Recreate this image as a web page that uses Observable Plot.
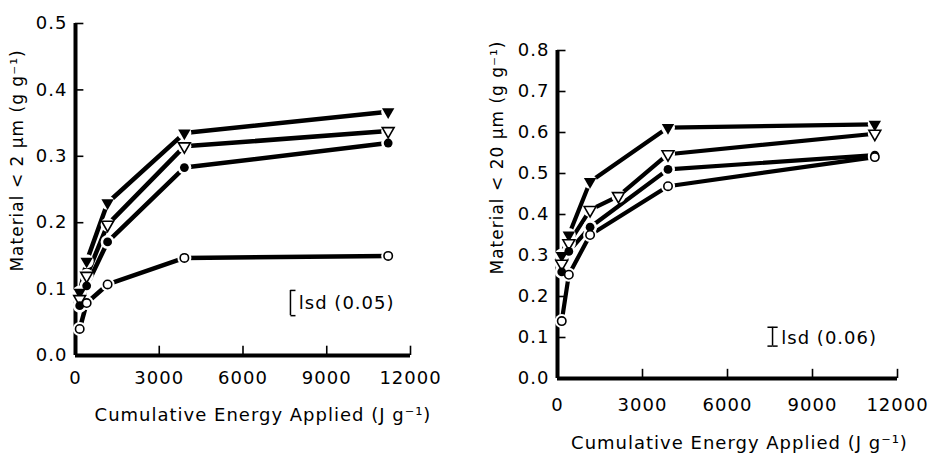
<!DOCTYPE html>
<html><head><meta charset="utf-8">
<script src="https://cdn.jsdelivr.net/npm/d3@7"></script>
<script src="https://cdn.jsdelivr.net/npm/@observablehq/plot@0.6"></script>
<style>
body{margin:0;background:#fff}
#wrap{display:flex;width:928px;height:465px;background:#fff}
svg{display:block}
</style>
</head><body><div id="wrap"></div>
<script>
// ---- data ----
const seriesNames = ["filledTriangle", "openTriangle", "filledCircle", "openCircle"];
const xTicks = [0, 3000, 6000, 9000, 12000];
const yTicksLeft = [0, 0.1, 0.2, 0.3, 0.4, 0.5];
const yTicksRight = [0, 0.1, 0.2, 0.3, 0.4, 0.5, 0.6, 0.7, 0.8];

// left panel: material < 2 um
const energyLeft = [150, 400, 1150, 3900, 11200];
const leftFilledTriangle = [0.095, 0.142, 0.23, 0.335, 0.367];
const leftOpenTriangle   = [0.085, 0.12, 0.197, 0.315, 0.338];
const leftFilledCircle   = [0.075, 0.105, 0.171, 0.283, 0.32];
const leftOpenCircle     = [0.04, 0.079, 0.107, 0.147, 0.15];

// right panel: material < 20 um
const energyRight = [150, 400, 1150, 3900, 11200];
const energyRightOpenTriangle = [150, 400, 1150, 2150, 3900, 11200];
const rightFilledTriangle = [0.30, 0.35, 0.48, 0.612, 0.62];
const rightOpenTriangle   = [0.28, 0.33, 0.411, 0.445, 0.547, 0.597];
const rightFilledCircle   = [0.26, 0.31, 0.369, 0.51, 0.545];
const rightOpenCircle     = [0.14, 0.253, 0.35, 0.469, 0.54];

// lsd annotations
const lsdLeft  = {x: 7700, y1: 0.06, y2: 0.098, tx: 8000, ty: 0.079, label: "lsd (0.05)", caps: "left"};
const lsdRight = {x: 7590, y1: 0.079, y2: 0.125, tx: 7900, ty: 0.098, label: "lsd (0.06)", caps: "both"};

const yLabelLeft  = "Material < 2 μm (g g⁻¹)";
const yLabelRight = "Material < 20 μm (g g⁻¹)";
const xLabel = "Cumulative Energy Applied (J g⁻¹)";

// ---- helpers ----
function rowsOf(energies, values, name) {
  return values.map((v, i) => ({energy: energies[i], value: v, series: name}));
}
const triDown = {
  draw(ctx, size) {
    const a = Math.sqrt(4 * size / Math.sqrt(3));
    const h = a * Math.sqrt(3) / 2;
    ctx.moveTo(-a / 2, -h / 3);
    ctx.lineTo(a / 2, -h / 3);
    ctx.lineTo(0, 2 * h / 3);
    ctx.closePath();
  }
};

function panel(o) {
  const rows = o.rows;
  const yMax = o.yMax;
  const lsd = o.lsd;
  const capLen = 180;
  const caps = [
    {x1: lsd.x, x2: lsd.x + capLen, y: lsd.y1},
    {x1: lsd.x, x2: lsd.x + capLen, y: lsd.y2}
  ];
  if (lsd.caps === "both") {
    caps.push({x1: lsd.x - capLen, x2: lsd.x, y: lsd.y1});
    caps.push({x1: lsd.x - capLen, x2: lsd.x, y: lsd.y2});
  }
  return Plot.plot({
    width: 464, height: 465,
    marginLeft: o.ml, marginRight: o.mr, marginTop: o.mt, marginBottom: o.mb,
    style: {fontFamily: "DejaVu Sans", fontSize: "18px", letterSpacing: "1px", background: "white", color: "black", overflow: "visible"},
    x: {domain: [0, 12000]},
    y: {domain: [0, yMax]},
    marks: [
      Plot.ruleX(xTicks.filter(d => d > 0), {x: d => d, y1: 0, y2: yMax * 0.028, strokeWidth: 1.6}),
      Plot.ruleY(o.yTicks.filter(d => d > 0), {y: d => d, x1: 0, x2: 12000 * 0.025, strokeWidth: 1.6}),
      Plot.axisX({ticks: xTicks, tickSize: 0, tickPadding: o.xPad, label: null, tickFormat: d => String(d), fontSize: 18}),
      Plot.axisY({ticks: o.yTicks, tickSize: 0, tickPadding: o.yPad, label: null, tickFormat: d3.format(".1f"), fontSize: 18}),
      Plot.ruleY([0], {strokeWidth: 4}),
      Plot.ruleX([0], {strokeWidth: 4}),
      Plot.line(rows, {x: "energy", y: "value", z: "series", stroke: "black", strokeWidth: o.lw}),
      Plot.dot(rows, {x: "energy", y: "value", r: 7, fill: "white"}),
      Plot.dot(rows.filter(d => d.series === "filledTriangle"), {x: "energy", y: "value", symbol: triDown, r: 4.6, fill: "black"}),
      Plot.dot(rows.filter(d => d.series === "openTriangle"), {x: "energy", y: "value", symbol: triDown, r: 4.4, fill: "white", stroke: "black", strokeWidth: 1.6}),
      Plot.dot(rows.filter(d => d.series === "filledCircle"), {x: "energy", y: "value", r: 4.4, fill: "black"}),
      Plot.dot(rows.filter(d => d.series === "openCircle"), {x: "energy", y: "value", r: 4.2, fill: "white", stroke: "black", strokeWidth: 1.6}),
      Plot.ruleX([lsd], {x: "x", y1: "y1", y2: "y2", strokeWidth: 1.5}),
      Plot.link(caps, {x1: "x1", x2: "x2", y1: "y", y2: "y", strokeWidth: 1.5}),
      Plot.text([lsd], {x: "tx", y: "ty", text: "label", textAnchor: "start", fontSize: 18}),
      Plot.text([o.yLabel], {frameAnchor: "left", textAnchor: "middle", lineAnchor: "middle", dx: o.ylDx, dy: o.ylDy, rotate: -90, fontSize: 17}),
      Plot.text([xLabel], {frameAnchor: "bottom", textAnchor: "middle", lineAnchor: "middle", dx: o.xlDx, dy: o.xlDy, fontSize: 18})
    ]
  });
}

const leftRows = [
  ...rowsOf(energyLeft, leftFilledTriangle, seriesNames[0]),
  ...rowsOf(energyLeft, leftOpenTriangle, seriesNames[1]),
  ...rowsOf(energyLeft, leftFilledCircle, seriesNames[2]),
  ...rowsOf(energyLeft, leftOpenCircle, seriesNames[3])
];
const rightRows = [
  ...rowsOf(energyRight, rightFilledTriangle, seriesNames[0]),
  ...rowsOf(energyRightOpenTriangle, rightOpenTriangle, seriesNames[1]),
  ...rowsOf(energyRight, rightFilledCircle, seriesNames[2]),
  ...rowsOf(energyRight, rightOpenCircle, seriesNames[3])
];

const wrap = document.getElementById("wrap");
wrap.append(panel({
  rows: leftRows, yMax: 0.5, yTicks: yTicksLeft, lsd: lsdLeft, yLabel: yLabelLeft,
  ml: 75, mr: 54, mt: 23, mb: 110, xPad: 16, yPad: 8, lw: 4.5,
  ylDx: -58, ylDy: -29, xlDx: 20, xlDy: 60
}));
wrap.append(panel({
  rows: rightRows, yMax: 0.8, yTicks: yTicksRight, lsd: lsdRight, yLabel: yLabelRight,
  ml: 93, mr: 31, mt: 50, mb: 87, xPad: 20, yPad: 8, lw: 4.2,
  ylDx: -60, ylDy: -57, xlDx: 12, xlDy: 65
}));
</script>
</body></html>
